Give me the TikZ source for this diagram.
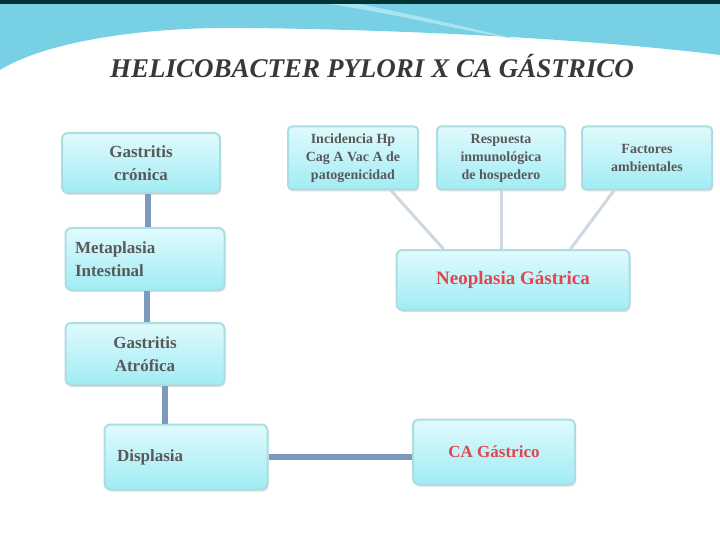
\documentclass[tikz,border=0pt]{standalone}
\usepackage{fontspec}
\setmainfont{Liberation Serif}
\usepackage{xcolor}
\usetikzlibrary{positioning,shadows,calc}
\definecolor{boxtop}{RGB}{224, 250, 252}
\definecolor{boxbottom}{RGB}{160, 236, 244}
\definecolor{boxedge}{RGB}{170, 222, 226}
\definecolor{linkblue}{RGB}{124, 154, 190}
\definecolor{linkgray}{RGB}{205, 216, 226}
\definecolor{wavecyan}{RGB}{120, 208, 228}
\definecolor{wavelight}{RGB}{170, 228, 240}
\definecolor{textred}{RGB}{225, 70, 80}

\tikzset{
    stagebox/.style={draw=boxedge, line width=2pt, rounded corners=6pt,
        top color=boxtop, bottom color=boxbottom, align=center,
        drop shadow={shadow xshift=1pt, shadow yshift=-2pt, opacity=0.25},
        font=\fontsize{17}{23}\selectfont\bfseries, text=black!65},
    factorbox/.style={stagebox, rounded corners=4pt, font=\fontsize{14}{18}\selectfont\bfseries},
    thicklink/.style={draw=linkblue, line width=6pt},
    thinlink/.style={draw=linkgray, line width=3pt}
}

\begin{document}
\begin{tikzpicture}[x=1pt, y=-1pt]
        \useasboundingbox (0,0) rectangle (720,540);
        % Background wave
        \fill[white] (0,0) rectangle (720,540);
        \fill[wavecyan] (0,0) -- (720,0) -- (720,55) .. controls (600,40) and (420,30) .. (250,28)
            .. controls (130,26) and (40,45) .. (0,70) -- cycle;
        \fill[wavelight] (330,4) .. controls (400,15) and (460,30) .. (520,40)
            .. controls (470,28) and (410,14) .. (350,2) -- cycle;
        \fill[white] (0,95) .. controls (60,45) and (160,30) .. (280,32)
            .. controls (450,35) and (600,55) .. (720,80) -- (720,540) -- (0,540) -- cycle;
        \fill[black!60!teal] (0,0) rectangle (720,4);

        % Title
        \node[font=\fontsize{27}{28}\selectfont\bfseries\itshape, text=black!78] (title) at (372,66) {HELICOBACTER PYLORI X CA GÁSTRICO};

        % Progression boxes
        \node[stagebox, minimum width=158pt, minimum height=60pt] (cronica) at (141,163) {Gastritis\\crónica};
        \node[stagebox, minimum width=159pt, minimum height=62pt, align=left, text width=140pt] (metaplasia) at (145,259) {Metaplasia\\Intestinal};
        \node[stagebox, minimum width=159pt, minimum height=62pt] (atrofica) at (145,354) {Gastritis\\Atrófica};
        \node[stagebox, minimum width=163pt, minimum height=65pt, align=left, text width=138pt] (displasia) at (186,457) {Displasia};
        \node[stagebox, minimum width=162pt, minimum height=65pt, text=textred] (cagastrico) at (494,452) {CA Gástrico};

        % Factors
        \node[factorbox, minimum width=130pt, minimum height=63pt] (virulencia) at (353,158) {Incidencia Hp\\Cag A Vac A de\\patogenicidad};
        \node[factorbox, minimum width=128pt, minimum height=63pt] (respuesta) at (501,158) {Respuesta\\inmunológica\\de hospedero};
        \node[factorbox, minimum width=130pt, minimum height=63pt] (ambiente) at (647,158) {Factores\\ambientales};
        \node[stagebox, minimum width=233pt, minimum height=60pt, font=\fontsize{19}{20}\selectfont\bfseries, text=textred] (neoplasia) at (513,280) {Neoplasia Gástrica};

        % Links
        \draw[thicklink] (cronica.south -| 148,0) -- (metaplasia.north -| 148,0);
        \draw[thicklink] (metaplasia.south -| 147,0) -- (atrofica.north -| 147,0);
        \draw[thicklink] (atrofica.south -| 165,0) -- (displasia.north -| 165,0);
        \draw[thicklink] (displasia.east) -- (cagastrico.west |- displasia.east);
        \draw[thinlink] ($(virulencia.south east)+(-28,0)$) -- ($(neoplasia.north west)+(48,0)$);
        \draw[thinlink] (respuesta.south) -- (respuesta.south |- neoplasia.north);
        \draw[thinlink] ($(ambiente.south west)+(33,0)$) -- ($(neoplasia.north east)+(-60,0)$);
    \end{tikzpicture}
\end{document}
